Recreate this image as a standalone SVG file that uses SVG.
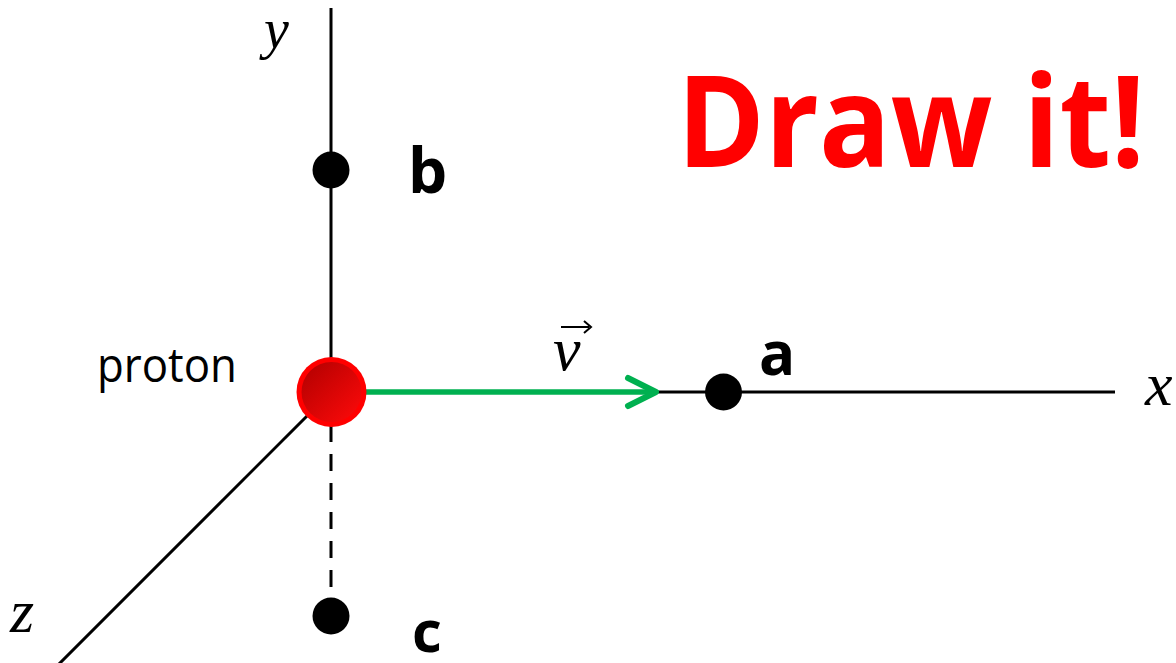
<svg xmlns="http://www.w3.org/2000/svg" width="1176" height="663" viewBox="0 0 1176 663">
<defs>
<linearGradient id="pg" x1="0" y1="0" x2="1" y2="1">
<stop offset="0" stop-color="#B00000"/>
<stop offset="1" stop-color="#FF0A0A"/>
</linearGradient>
<style>
.axis{stroke:#000;stroke-width:3;fill:none}
.dot{fill:#000}
.lbl{font-family:"Open Sans","Liberation Sans",sans-serif;font-weight:bold;fill:#000}
.math{font-family:"Liberation Serif","DejaVu Serif",serif;font-style:italic;fill:#000}
</style>
</defs>
<rect width="1176" height="663" fill="#fff"/>
<g id="connectors">
<line class="axis" x1="331" y1="8" x2="331" y2="360"/>
<line class="axis" x1="655" y1="392" x2="1115" y2="392"/>
<line class="axis" x1="310" y1="413" x2="55" y2="668"/>
<line class="axis" x1="331" y1="425" x2="331" y2="600" stroke-width="3.8" stroke-dasharray="17 12"/>
<line x1="366" y1="392" x2="654" y2="392" stroke="#00B050" stroke-width="5.5"/>
<polyline points="628,378 656,392 628,406" fill="none" stroke="#00B050" stroke-width="6" stroke-linecap="round" stroke-linejoin="round"/>
</g>
<g id="proton">
<circle cx="331.5" cy="392" r="35" fill="#FF0000"/>
<circle cx="331.5" cy="392" r="30" fill="url(#pg)"/>
<text x="97" y="382" font-family="'Open Sans','Liberation Sans',sans-serif" font-size="47" textLength="140" lengthAdjust="spacingAndGlyphs" fill="#000">proton</text>
</g>
<g id="point-a">
<circle class="dot" cx="723.5" cy="392" r="18.5"/>
<text class="lbl" x="759" y="375" font-size="60">a</text>
</g>
<g id="point-b">
<circle class="dot" cx="331" cy="170" r="18.5"/>
<text class="lbl" x="408" y="193" font-size="62">b</text>
</g>
<g id="point-c">
<circle class="dot" cx="331" cy="616" r="18.5"/>
<text class="lbl" x="412" y="652" font-size="58">c</text>
</g>
<g id="labels">
<text class="math" x="264" y="48" font-size="56">y</text>
<text class="math" x="1145" y="405" font-size="62">x</text>
<text class="math" x="10" y="632" font-size="62">z</text>
<text class="math" x="553" y="370" font-size="62">v</text>
<line x1="561" y1="327" x2="589" y2="327" stroke="#000" stroke-width="2"/>
<polyline points="584,321 591,327 584,333" fill="none" stroke="#000" stroke-width="2"/>
<text x="677" y="167" font-family="'Open Sans','Liberation Sans',sans-serif" font-weight="bold" font-size="127" textLength="468" lengthAdjust="spacingAndGlyphs" fill="#FF0000">Draw it!</text>
</g>
</svg>
